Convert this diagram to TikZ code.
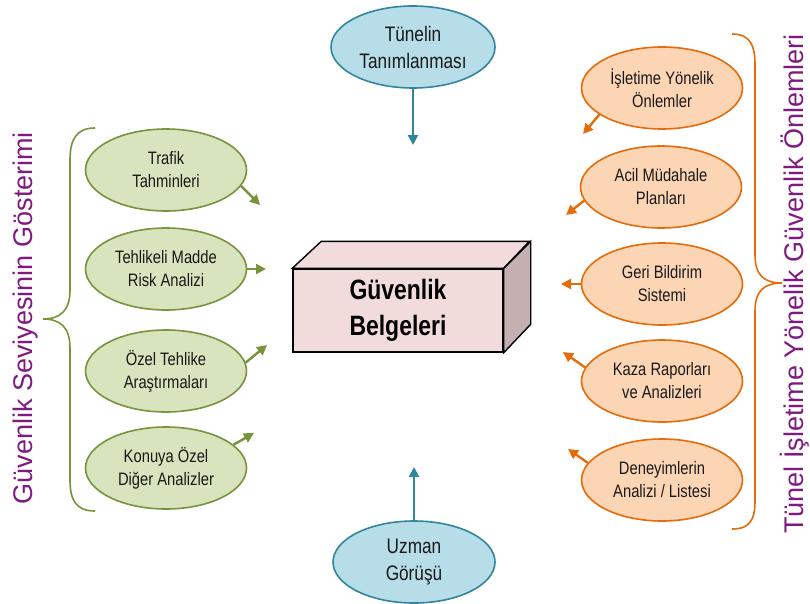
\documentclass[tikz,border=0pt]{standalone}
\usepackage{fontspec}
\setmainfont{Liberation Sans}
\newfontfamily\narrowfont{Liberation Sans}[FakeStretch=0.82]
\usetikzlibrary{arrows.meta,shapes.geometric}
\definecolor{gfill}{HTML}{D7E4BD}
\definecolor{gline}{HTML}{77933C}
\definecolor{ofill}{HTML}{FCD5B5}
\definecolor{oline}{HTML}{E46C0A}
\definecolor{bfill}{HTML}{B7DEE8}
\definecolor{bline}{HTML}{31859C}
\definecolor{pfront}{HTML}{F2DCDB}
\definecolor{pside}{HTML}{C4B0B0}
\definecolor{mor}{HTML}{7E1A80}
\begin{document}
\begin{tikzpicture}[x=1pt,y=-1pt,
	oval/.style={ellipse, line width=1.6pt, inner sep=0pt, align=center, text=black!90,
		minimum width=161pt, minimum height=82pt, font=\narrowfont\fontsize{18}{23}\selectfont},
	yesil/.style={oval, draw=gline, fill=gfill},
	turuncu/.style={oval, draw=oline, fill=ofill},
	mavi/.style={oval, draw=bline, fill=bfill, minimum width=164pt, font=\narrowfont\fontsize{21}{27}\selectfont},
	ok/.style={line width=2.4pt, -{Triangle[width=10pt,length=10pt]}},
	parantez/.style={line width=1.6pt},
	yan/.style={mor, rotate=90, anchor=base, font=\fontsize{27}{30}\selectfont}]
	\useasboundingbox (0,0) rectangle (810,604);
	% orta kutu
	\node[draw, line width=1.4pt, fill=pfront, minimum width=210pt, minimum height=83pt,
		align=center, font=\narrowfont\bfseries\fontsize{28}{36}\selectfont] (belge) at (398,310.5) {Güvenlik\\Belgeleri};
	\filldraw[line width=1.4pt, fill=pfront] (belge.north west) -- ++(29,-27) -- ++(208,0) -- (belge.north east) -- cycle;
	\filldraw[line width=1.4pt, fill=pside] (belge.north east) -- ++(27,-27) -- ++(0,83) -- (belge.south east) -- cycle;
	% ust ve alt
	\node[mavi] (tunel) at (413,47) {Tünelin\\Tanımlanması};
	\node[mavi, minimum width=162pt] (uzman) at (414,562) {Uzman\\Görüşü};
	\coordinate (tunelok) at (413,145);
	\coordinate (uzmanok) at (414,467);
	\draw[ok, bline] (tunel) -- (tunelok);
	\draw[ok, bline] (uzman) -- (uzmanok);
	% sol taraf
	\node[yesil] (trafik) at (166,170) {Trafik\\Tahminleri};
	\node[yesil] (tehlikeli) at (166,269) {Tehlikeli Madde\\Risk Analizi};
	\node[yesil] (ozel) at (166,371) {Özel Tehlike\\Araştırmaları};
	\node[yesil] (konuya) at (166,468) {Konuya Özel\\Diğer Analizler};
	\coordinate (trafikok) at (260,205);
	\coordinate (tehlikeliok) at (266,269);
	\coordinate (ozelok) at (267,345);
	\coordinate (konuyaok) at (254,433);
	\draw[ok, gline] (trafik.-12) -- (trafikok);
	\draw[ok, gline] (tehlikeli.east) -- (tehlikeliok);
	\draw[ok, gline] (ozel.6) -- (ozelok);
	\draw[ok, gline] (konuya.19) -- (konuyaok);
	\draw[parantez, gline] (95,128) .. controls (76,128) and (70,140) .. (70,160) -- (70,290)
		.. controls (70,311) and (60,319) .. (43,319) .. controls (60,319) and (70,327) .. (70,348)
		-- (70,480) .. controls (70,500) and (76,511) .. (95,511);
	\node[yan] (solyazi) at (32,318) {Güvenlik Seviyesinin Gösterimi};
	% sag taraf
	\node[turuncu] (isletme) at (662,88) {İşletime Yönelik\\Önlemler};
	\node[turuncu] (acil) at (661,187) {Acil Müdahale\\Planları};
	\node[turuncu] (geri) at (662,284) {Geri Bildirim\\Sistemi};
	\node[turuncu] (kaza) at (662,381) {Kaza Raporları\\ve Analizleri};
	\node[turuncu] (deneyim) at (662,480) {Deneyimlerin\\Analizi / Listesi};
	\coordinate (isletmeok) at (583,134);
	\coordinate (acilok) at (566,215);
	\coordinate (geriok) at (561,284);
	\coordinate (kazaok) at (563,352);
	\coordinate (deneyimok) at (568,449);
	\draw[ok, oline] (isletme.203) -- (isletmeok);
	\draw[ok, oline] (acil.190) -- (acilok);
	\draw[ok, oline] (geri.west) -- (geriok);
	\draw[ok, oline] (kaza.170) -- (kazaok);
	\draw[ok, oline] (deneyim.167) -- (deneyimok);
	\draw[parantez, oline] (732,34) .. controls (750,34) and (755,45) .. (755,65) -- (755,255)
		.. controls (755,276) and (765,283) .. (782,283) .. controls (765,283) and (755,290) .. (755,311)
		-- (755,500) .. controls (755,520) and (750,529) .. (732,529);
	\node[yan] (sagyazi) at (803,284) {Tünel İşletime Yönelik Güvenlik Önlemleri};
\end{tikzpicture}
\end{document}
